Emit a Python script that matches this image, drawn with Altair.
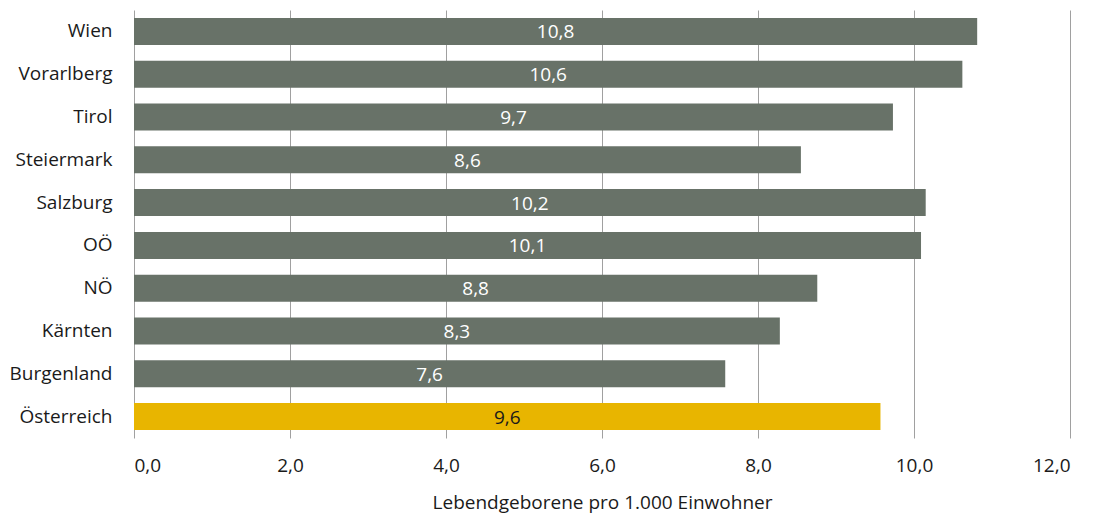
import altair as alt
import pandas as pd

regions = ["Wien", "Vorarlberg", "Tirol", "Steiermark", "Salzburg", "OÖ", "NÖ",
           "Kärnten", "Burgenland", "Österreich"]
values = [10.81, 10.62, 9.73, 8.55, 10.15, 10.09, 8.76, 8.28, 7.58, 9.57]
highlight = ["Region"] * 9 + ["Gesamt"]

df = pd.DataFrame({"region": regions, "value": values, "group": highlight})

FONT = "Open Sans"
FS = 19

base = alt.Chart(df).transform_calculate(
    label="replace(format(datum.value, '.1f'), '.', ',')"
)

y_enc = alt.Y("region:N", sort=regions, title=None,
              scale=alt.Scale(paddingInner=0.37, paddingOuter=0.185),
              axis=alt.Axis(domain=False, ticks=False, grid=False, labelPadding=22,
                            labelFontSize=FS, labelFont=FONT, labelColor="#1a1a1a"))

x_enc = alt.X("value:Q", title="Lebendgeborene pro 1.000 Einwohner",
              scale=alt.Scale(domain=[0, 12], nice=False),
              axis=alt.Axis(values=[0, 2, 4, 6, 8, 10, 12], domain=False, ticks=False,
                            grid=True, gridColor="#a0a0a0", gridWidth=1,
                            labelExpr="replace(format(datum.value, '.1f'), '.', ',')",
                            labelFontSize=FS, labelFont=FONT, labelColor="#1a1a1a",
                            labelPadding=18, titleFontSize=FS, titleFont=FONT,
                            titleFontWeight="normal", titleColor="#1a1a1a",
                            titlePadding=18))

bars = base.mark_bar().encode(
    x=x_enc,
    y=y_enc,
    color=alt.Color("group:N", scale=alt.Scale(domain=["Region", "Gesamt"],
                                               range=["#687268", "#e8b500"]),
                    legend=None),
)

text = base.transform_calculate(mid="datum.value / 2").mark_text(
    fontSize=FS, font=FONT, align="center", baseline="middle", dy=1
).encode(
    x=alt.X("mid:Q"),
    y=alt.Y("region:N", sort=regions),
    text="label:N",
    color=alt.Color("group:N", scale=alt.Scale(domain=["Region", "Gesamt"],
                                               range=["#ffffff", "#1a1a1a"]),
                    legend=None),
)

chart = alt.layer(bars, text).resolve_scale(color="independent").properties(
    width=936, height=428,
    autosize=alt.AutoSizeParams(type="none"),
    padding={"left": 126, "top": 2, "right": 17, "bottom": 76},
).configure_view(stroke=None)

chart.save("out.html", embed_options={"renderer": "svg", "actions": False})
